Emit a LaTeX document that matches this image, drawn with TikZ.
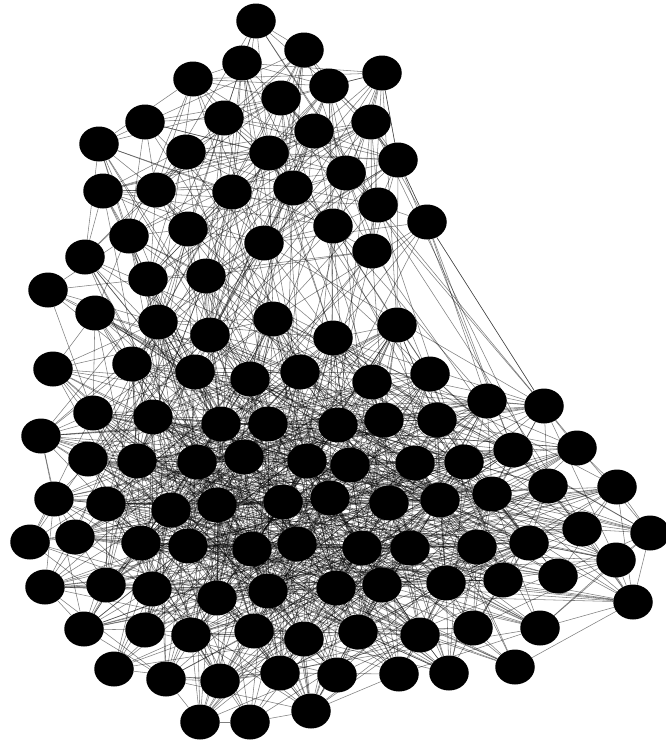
\documentclass[tikz,border=0pt]{standalone}
\usetikzlibrary{shapes.geometric,backgrounds}
\tikzset{
  dot/.style={ellipse,fill=black,draw=none,inner sep=0pt,minimum width=39.5pt,minimum height=35pt},
  link/.style={draw=black,draw opacity=0.5,line width=0.55pt}
}
\def\pts{256/21,304/50,242/63,193/79,382/73,329/86,281/98,145/122,224/118,371/122,314/131,99/144,186/152,269/153,398/160,346/173,103/191,156/190,232/192,293/188,378/205,427/222,333/226,188/229,129/236,264/243,372/251,85/257,148/279,206/276,48/290,95/313,158/322,273/319,397/325,210/335,333/338,53/369,132/364,195/372,300/372,250/379,372/382,430/374,487/401,544/406,93/413,153/417,221/424,268/424,338/425,384/420,437/420,41/436,577/448,513/450,88/459,137/461,197/462,244/457,307/461,350/465,415/463,464/462,617/487,548/486,492/494,54/499,106/504,171/510,217/505,283/502,330/498,389/503,440/500,650/533,582/529,30/542,75/537,141/543,188/546,252/549,297/544,362/548,410/548,477/547,529/543,616/560,45/587,106/585,152/589,268/591,217/598,336/588,382/585,446/583,503/580,558/576,633/602,84/629,145/630,191/635,254/631,304/639,358/632,420/635,473/628,540/628,114/669,166/679,220/681,280/673,337/675,399/674,449/673,515/667,200/722,250/722,311/711}
\begin{document}
\begin{tikzpicture}[x=1pt,y=-1pt]
\useasboundingbox (0,0) rectangle (665,742);
\pgfmathsetseed{4711}
\foreach \x/\y [count=\i] in \pts {
  \node[dot] (n\i) at (\x,\y) {};
  \expandafter\xdef\csname px\i\endcsname{\x}
  \expandafter\xdef\csname py\i\endcsname{\y}
}
\begin{pgfonlayer}{background}
\foreach \i in {1,...,118}{
  \pgfmathtruncatemacro\s{\i+1}
  \foreach \j in {\s,...,119}{
    \edef\ax{\csname px\i\endcsname}\edef\ay{\csname py\i\endcsname}
    \edef\bx{\csname px\j\endcsname}\edef\by{\csname py\j\endcsname}
    \pgfmathtruncatemacro\d{veclen(\ax-\bx,\ay-\by)}
    \pgfmathtruncatemacro\m{veclen((\ax+\bx)/2-310,(\ay+\by)/2-490)}
    \pgfmathrandominteger\r{0}{99}
    \def\p{0}
    \ifnum\ay<300 \ifnum\by<300
      % both in the upper cluster
      \ifnum\d<110 \def\p{58}\else\ifnum\d<230 \def\p{26}\else\def\p{6}\fi\fi
    \else
      % upper to lower
      \ifnum\d<170 \def\p{26}\else\ifnum\d<330 \def\p{15}\else\def\p{2}\fi\fi
      \ifnum\bx<120 \def\p{3}\fi
    \fi\else
      % both in the lower cluster: denser toward the centre
      \ifnum\m<110
        \ifnum\d<120 \def\p{62}\else\ifnum\d<230 \def\p{42}\else\def\p{20}\fi\fi
      \else\ifnum\m<200
        \ifnum\d<120 \def\p{55}\else\ifnum\d<230 \def\p{28}\else\def\p{8}\fi\fi
      \else
        \ifnum\d<120 \def\p{30}\else\ifnum\d<230 \def\p{10}\else\def\p{2}\fi\fi
      \fi\fi
    \fi
    \ifnum\r<\p\relax
      \draw[link] (n\i) -- (n\j);
    \fi
  }
}
\draw[link] (n22) -- (n46);
\draw[link] (n22) -- (n45);
\draw[link] (n76) -- (n99);
\draw[link] (n76) -- (n65);
\draw[link] (n76) -- (n88);
\draw[link] (n54) -- (n68);
\draw[link] (n31) -- (n32);
\draw[link] (n32) -- (n47);
\draw[link] (n5) -- (n15);
\draw[link] (n15) -- (n22);
\draw[link] (n99) -- (n108);
\end{pgfonlayer}
\end{tikzpicture}
\end{document}
